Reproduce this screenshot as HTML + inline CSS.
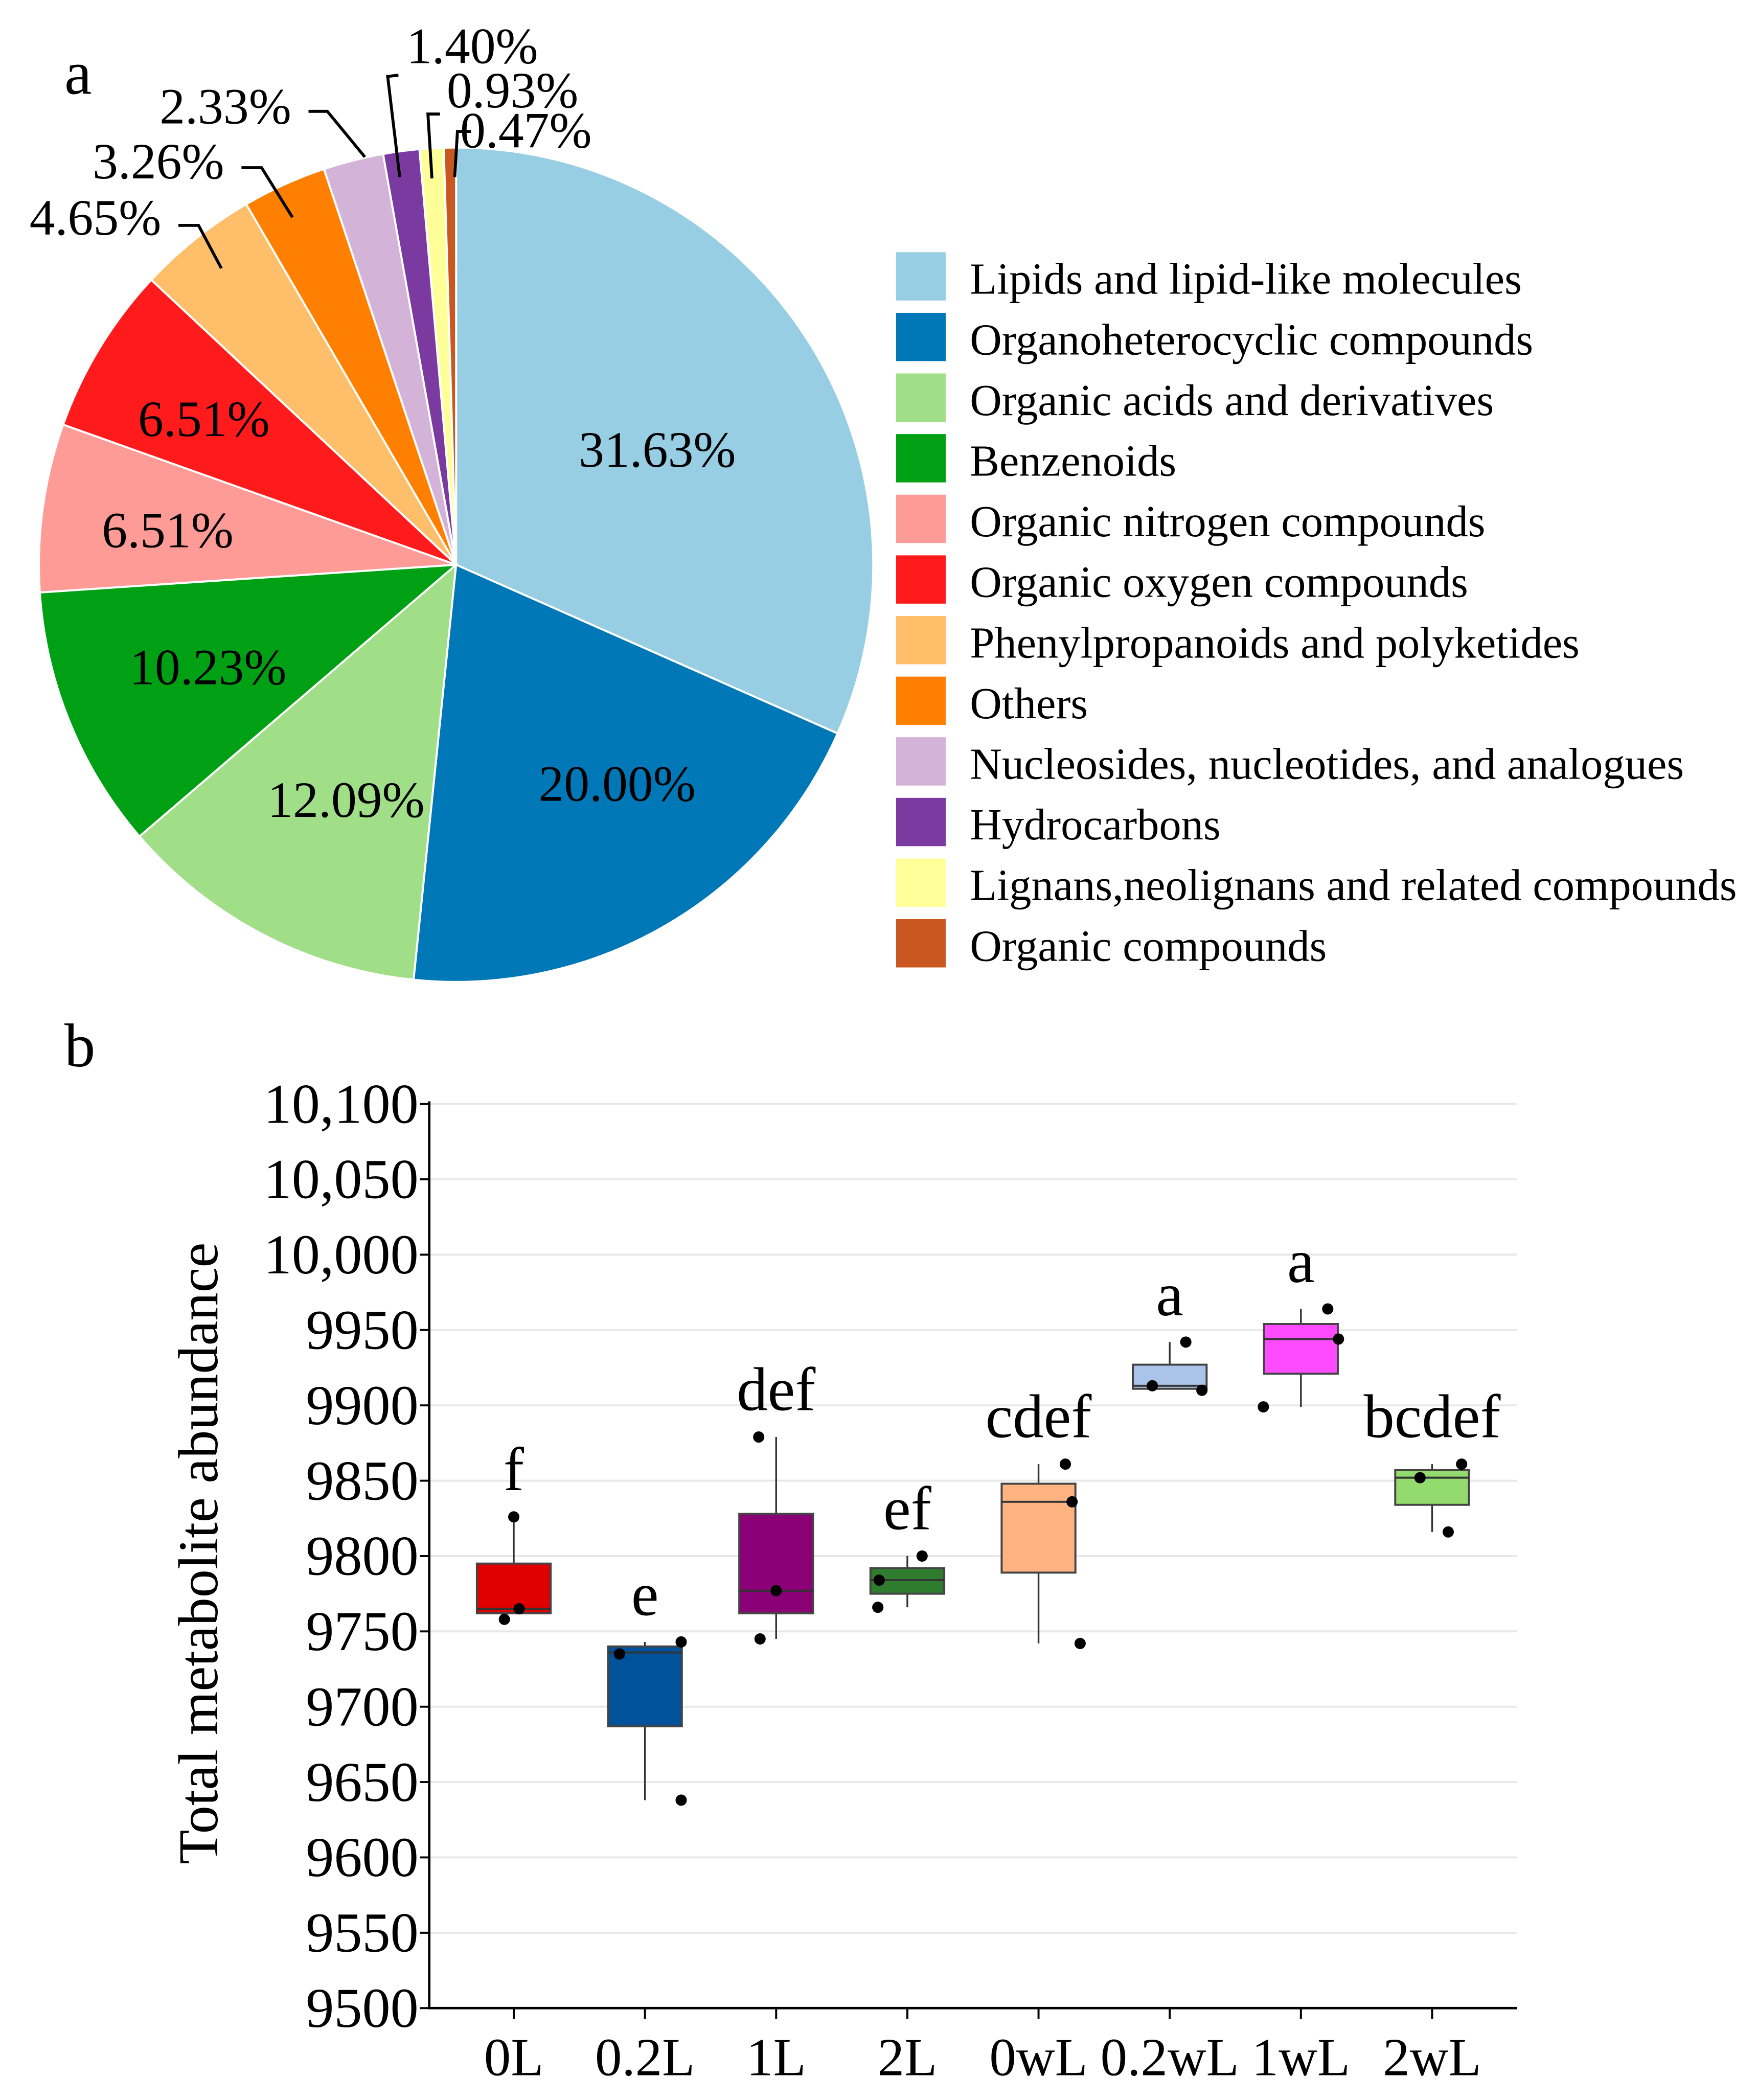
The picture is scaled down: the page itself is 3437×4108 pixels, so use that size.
<!DOCTYPE html>
<html><head><meta charset="utf-8"><style>
html,body{margin:0;padding:0;background:#fff}
svg{display:block;font-family:"Liberation Serif",serif}
</style></head><body>
<svg id="fig" width="3437" height="4108" viewBox="0 0 1309.8 1565.5" xmlns="http://www.w3.org/2000/svg" font-family="'Liberation Serif', serif">
<rect width="1309.8" height="1565.5" fill="#fff"/>
<text x="48" y="70" font-size="46">a</text>
<g id="pie"></g>
<g id="legend"></g>
<text x="48" y="795" font-size="46">b</text>
<g id="box"></g>
</svg>
<script>
const NS='http://www.w3.org/2000/svg';
function mk(tag,attrs,parent,txt){const e=document.createElementNS(NS,tag);for(const k in attrs)e.setAttribute(k,attrs[k]);if(txt!==undefined)e.textContent=txt;parent.appendChild(e);return e;}

// ---------- Pie data ----------
const pieCategories=["Lipids and lipid-like molecules","Organoheterocyclic compounds","Organic acids and derivatives","Benzenoids","Organic nitrogen compounds","Organic oxygen compounds","Phenylpropanoids and polyketides","Others","Nucleosides, nucleotides, and analogues","Hydrocarbons","Lignans,neolignans and related compounds","Organic compounds"];
const pieValues=[31.63,20.00,12.09,10.23,6.51,6.51,4.65,3.26,2.33,1.40,0.93,0.47];
const pieLabels=["31.63%","20.00%","12.09%","10.23%","6.51%","6.51%","4.65%","3.26%","2.33%","1.40%","0.93%","0.47%"];
const pieColors=["#97CEE4","#0077B6","#A0DF87","#00A015","#FF9B97","#FF1A1C","#FFBE6A","#FF8000","#D4B3D9","#7A3AA0","#FFFF99","#C85820"];

const pie=document.getElementById('pie');
const cx=340,cy=421,R=311;
const total=pieValues.reduce((a,b)=>a+b,0);
function pt(a,r){return [cx+r*Math.sin(a),cy-r*Math.cos(a)];}
let acc=0;
pieValues.forEach((v,i)=>{
  const a0=acc/total*2*Math.PI; acc+=v; const a1=acc/total*2*Math.PI;
  const p0=pt(a0,R),p1=pt(a1,R);
  const large=(a1-a0)>Math.PI?1:0;
  const s=mk('path',{d:`M${cx},${cy}L${p0[0]},${p0[1]}A${R},${R} 0 ${large} 1 ${p1[0]},${p1[1]}Z`,fill:pieColors[i],stroke:'#fff','stroke-width':1.5},pie);
  
  
});
// inside label positions (layout)
const inPos=[[490,336],[460,585],[258,597],[155,498],[125,396],[152,313]];
for(let i=0;i<6;i++){
  const t=mk('text',{x:inPos[i][0],y:inPos[i][1]+12,'font-size':38,'text-anchor':'middle'},pie,pieLabels[i]);
  
  
}
const outText=[[22,175],[69,133],[119,92],[303,47],[333,80],[343,110]];
const outLines=[[[133,168],[148,168],[165,200]],[[180,125],[195,125],[218,162]],[[230,83],[244,83],[272,117]],[[297,56],[289,57],[298,132]],[[328,85],[319,85],[322,133]],[[351,98],[341,98],[339,132]]];
for(let j=0;j<6;j++){
  const i=6+j;
  const l=mk('polyline',{points:outLines[j].map(p=>p.join(',')).join(' '),fill:'none',stroke:'#000','stroke-width':2.2},pie);
  
  
  const t=mk('text',{x:outText[j][0],y:outText[j][1],'font-size':38},pie,pieLabels[i]);
  
  
}
const leg=document.getElementById('legend');
pieCategories.forEach((c,i)=>{
  const y=188+i*45.2;
  const r=mk('rect',{x:668,y:y,width:37,height:36,fill:pieColors[i]},leg);
  
  
  const t=mk('text',{x:723,y:y+31,'font-size':33},leg,c);
  
  
});

// ---------- Box plot data ----------
const groups=["0L","0.2L","1L","2L","0wL","0.2wL","1wL","2wL"];
const q1=[9762,9687,9762,9775,9789,9911,9921,9834];
const q3=[9795,9740,9828,9792,9848,9927,9954,9857];
const med=[9765,9736,9777,9784,9836,9913,9944,9852];
const wLo=[9762,9638,9745,9766,9742,9911,9899,9816];
const wHi=[9826,9743,9879,9800,9861,9942,9964,9861];
const pointsA=[9826,9743,9879,9800,9861,9942,9964,9861];
const pointsB=[9765,9735,9777,9784,9836,9913,9944,9852];
const pointsC=[9758,9638,9745,9766,9742,9910,9899,9816];
const sigLetters=["f","e","def","ef","cdef","a","a","bcdef"];
const boxColors=["#E00000","#00529B","#8B0077","#2E7D2E","#FFB380","#A9C4E8","#FF4BFF","#93DB6E"];
const yTicks=[9500,9550,9600,9650,9700,9750,9800,9850,9900,9950,10000,10050,10100];
const yTickLabels=["9500","9550","9600","9650","9700","9750","9800","9850","9900","9950","10,000","10,050","10,100"];

const box=document.getElementById('box');
const X0=320,X1=1131,Ytop=823,Ybot=1497,yMin=9500,yMax=10100;
const y=v=>Ybot-(v-yMin)/(yMax-yMin)*(Ybot-Ytop);
const x=i=>383+i*97.8;
yTicks.forEach((v,i)=>{
  if(i>0){const g=mk('line',{x1:X0,x2:X1,y1:y(v),y2:y(v),stroke:'#e8e8e8','stroke-width':1.5},box);
  }
  const tk=mk('line',{x1:X0-7,x2:X0,y1:y(v),y2:y(v),stroke:'#000','stroke-width':1.5},box);
  
  const t=mk('text',{x:X0-8,y:y(v)+14,'font-size':42,'text-anchor':'end'},box,yTickLabels[i]);
  
});
const ax=mk('path',{d:`M${X0},${Ytop-2}V${Ybot}H${X1}`,fill:'none',stroke:'#000','stroke-width':1.8},box);

const yl=mk('text',{x:0,y:0,'font-size':42,'text-anchor':'middle',transform:`translate(162,1158) rotate(-90)`},box,'Total metabolite abundance');

const jit=[[0,4,-7],[27,-19,27],[-13,0,-12],[11,-21,-22],[20,25,31],[12,-13,24],[20,28,-28],[22,-9,12]];
const bw=55;
groups.forEach((g,i)=>{
  const cxp=x(i);
  const tk=mk('line',{x1:cxp,x2:cxp,y1:Ybot,y2:Ybot+8,stroke:'#000','stroke-width':1.5},box);
  
  const tl=mk('text',{x:cxp,y:Ybot+50,'font-size':40,'text-anchor':'middle'},box,g);
  
  const w=mk('line',{x1:cxp,x2:cxp,y1:y(wLo[i]),y2:y(wHi[i]),stroke:'#333','stroke-width':1.3},box);
  
  const r=mk('rect',{x:cxp-bw/2,y:y(q3[i]),width:bw,height:y(q1[i])-y(q3[i]),fill:boxColors[i],stroke:'#444','stroke-width':1.5},box);
  
  const m=mk('line',{x1:cxp-bw/2,x2:cxp+bw/2,y1:y(med[i]),y2:y(med[i]),stroke:'#333','stroke-width':1.5},box);
  
  [pointsA,pointsB,pointsC].forEach((arr,k)=>{
    const c=mk('circle',{cx:cxp+jit[i][k],cy:y(arr[i]),r:4.2,fill:'#000'},box);
    
  });
  const s=mk('text',{x:cxp,y:y(wHi[i])-20,'font-size':46,'text-anchor':'middle'},box,sigLetters[i]);
  
});
</script>
</body></html>
